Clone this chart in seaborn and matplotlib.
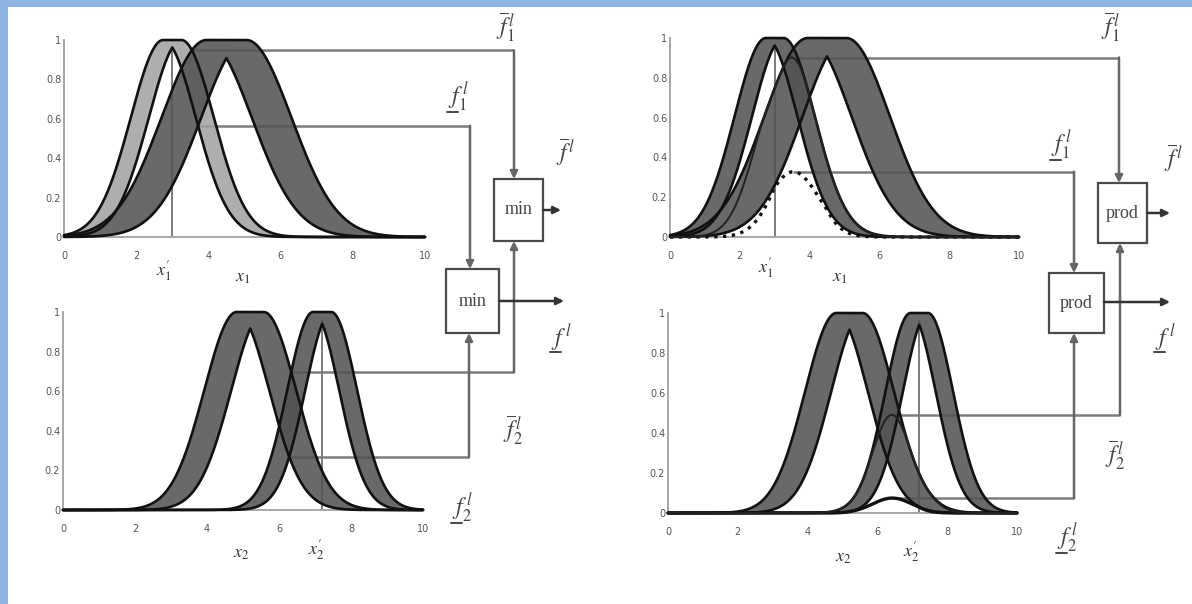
import numpy as np
import matplotlib
matplotlib.use("Agg")
import matplotlib.pyplot as plt
import seaborn as sns
from matplotlib.patches import Rectangle

sns.set_theme(style="white")
plt.rcParams["font.family"] = ["DejaVu Sans"]
plt.rcParams["mathtext.fontset"] = "stix"

W, H = 1192, 604

# interval type-2 gaussian sets with uncertain mean
x1_input_means = [2.75, 3.25]
x1_input_sigma = 0.9
x1_rule_means = [3.95, 5.05]
x1_rule_sigma = 1.25
x2_rule_means = [4.825, 5.575]
x2_rule_sigma = 0.9
x2_input_means = [6.95, 7.45]
x2_input_sigma = 0.72
x1_prime = 3.0
x2_prime = 7.2

x_ticks = [0, 2, 4, 6, 8, 10]
y_ticks = [0, 0.2, 0.4, 0.6, 0.8, 1]
y_tick_labels = ["0", "0.2", "0.4", "0.6", "0.8", "1"]

xs = np.linspace(0, 10, 801)

LINE = "#7c7c7c"
DARK = "#535353"
LIGHT = "#a2a2a2"


def gauss(x, m, s):
    return np.exp(-0.5 * ((x - m) / s) ** 2)


def upper_mf(x, means, s):
    m1, m2 = means
    return np.where(x < m1, gauss(x, m1, s), np.where(x > m2, gauss(x, m2, s), 1.0))


def lower_mf(x, means, s):
    return np.minimum(gauss(x, means[0], s), gauss(x, means[1], s))


def make_axes(fig, px_left, px_right, px_bottom, px_top):
    ax = fig.add_axes([px_left / W, 1 - px_bottom / H,
                       (px_right - px_left) / W, (px_bottom - px_top) / H])
    ax.set_xlim(0, 10)
    ax.set_ylim(0, 1)
    ax.set_xticks(x_ticks)
    ax.set_xticklabels([str(t) for t in x_ticks])
    ax.set_yticks(y_ticks)
    ax.set_yticklabels(y_tick_labels)
    for side in ["top", "right"]:
        ax.spines[side].set_visible(False)
    for side in ["left", "bottom"]:
        ax.spines[side].set_color("#a0a0a0")
        ax.spines[side].set_linewidth(1.3)
    ax.tick_params(direction="in", length=3, width=1, colors="#8a8a8a",
                   labelsize=7, labelcolor="#555555")
    ax.tick_params(axis="x", pad=10)
    ax.tick_params(axis="y", pad=2)
    ax.patch.set_alpha(0)
    return ax


def draw_fou(ax, means, s, fill):
    up = upper_mf(xs, means, s)
    lo = lower_mf(xs, means, s)
    ax.fill_between(xs, lo, up, color=fill, alpha=0.87, lw=0, zorder=2)
    for y in (up, lo):
        sns.lineplot(x=xs, y=y, ax=ax, color="#111111", lw=1.9, zorder=3,
                     clip_on=False, legend=False)
    ax.set_xlabel("")
    ax.set_ylabel("")


def firing(inp, rule, tnorm):
    op = np.minimum if tnorm == "min" else np.multiply
    up = op(upper_mf(xs, *inp), upper_mf(xs, *rule))
    lo = op(lower_mf(xs, *inp), lower_mf(xs, *rule))
    return (xs[up.argmax()], up.max(), up), (xs[lo.argmax()], lo.max(), lo)


fig = plt.figure(figsize=(W / 100, H / 100), dpi=100)
fig.patch.set_facecolor("white")

ov = fig.add_axes([0, 0, 1, 1])
ov.set_xlim(0, W)
ov.set_ylim(H, 0)
ov.axis("off")
ov.patch.set_alpha(0)
ov.set_zorder(5)

ov.add_patch(Rectangle((0, 0), W, 6.5, color="#8db4e2", lw=0))
ov.add_patch(Rectangle((0, 0), 7.5, H, color="#8db4e2", lw=0))

panels = [
    dict(frame=(64, 425, 237, 40), inp=(x1_input_means, x1_input_sigma),
         rule=(x1_rule_means, x1_rule_sigma), inp_fill=LIGHT, prime=x1_prime,
         tnorm="min", labels=[(r"$x_1'$", 164, 271), (r"$x_1$", 243, 277)]),
    dict(frame=(63, 423, 510, 312), inp=(x2_input_means, x2_input_sigma),
         rule=(x2_rule_means, x2_rule_sigma), inp_fill=DARK, prime=x2_prime,
         tnorm="min", labels=[(r"$x_2$", 241, 553), (r"$x_2'$", 316, 550)]),
    dict(frame=(670, 1019, 237, 38), inp=(x1_input_means, x1_input_sigma),
         rule=(x1_rule_means, x1_rule_sigma), inp_fill=DARK, prime=x1_prime,
         tnorm="prod", labels=[(r"$x_1'$", 766, 268), (r"$x_1$", 840, 277)]),
    dict(frame=(668, 1017, 513, 313), inp=(x2_input_means, x2_input_sigma),
         rule=(x2_rule_means, x2_rule_sigma), inp_fill=DARK, prime=x2_prime,
         tnorm="prod", labels=[(r"$x_2$", 843, 557), (r"$x_2'$", 911, 552)]),
]

axes = []
for p in panels:
    ax = make_axes(fig, *p["frame"])
    draw_fou(ax, *p["inp"], p["inp_fill"])
    draw_fou(ax, *p["rule"], DARK)
    ax.plot([p["prime"], p["prime"]], [0, 0.96], color=LINE, lw=1.4, zorder=1)
    hi, lo = firing(p["inp"], p["rule"], p["tnorm"])
    p["hi"], p["lo"] = hi, lo
    if p["tnorm"] == "prod":
        style = ":" if p is panels[2] else "-"
        ax.plot(xs, lo[2], color="#111111", lw=2.4, ls=style, zorder=4, clip_on=False)
        ax.plot(xs, hi[2], color="#222222", lw=1.4, zorder=4, clip_on=False)
    for text, lx, ly in p["labels"]:
        ov.text(lx, ly, text, fontsize=13, ha="center", va="center", color="#333333")
    axes.append(ax)


def connect(ax, x_start, level, x_turn, y_end):
    xt = ax.transData.inverted().transform((x_turn, 0))[0]
    ax.plot([x_start, xt], [level, level], color=LINE, lw=1.8, zorder=1,
            clip_on=False, solid_capstyle="butt")
    ypx = H - ax.transData.transform((0, level))[1]
    ov.annotate("", xy=(x_turn, y_end), xytext=(x_turn, ypx),
                arrowprops=dict(arrowstyle="-|>", color="#666666", lw=1.8,
                                shrinkA=0, shrinkB=0, mutation_scale=11))


def arrow_out(x0, x1, y):
    ov.annotate("", xy=(x1, y), xytext=(x0, y),
                arrowprops=dict(arrowstyle="-|>", color="#333333", lw=1.8,
                                shrinkA=0, shrinkB=0, mutation_scale=11))


def box(x0, y0, x1, y1, text):
    ov.add_patch(Rectangle((x0, y0), x1 - x0, y1 - y0, fill=False,
                           ec="#4a4a4a", lw=1.6))
    ov.text((x0 + x1) / 2, (y0 + y1) / 2, text, family="Liberation Serif",
            fontsize=13, ha="center", va="center", color="#444444")


# left half: min t-norm
box(494, 179, 543, 241, "min")
box(446, 269, 499, 333, "min")
tl, bl, tr, br = panels
connect(axes[0], tl["hi"][0], tl["hi"][1], 514, 179)
connect(axes[0], tl["lo"][0], tl["lo"][1], 470, 269)
connect(axes[1], bl["hi"][0], bl["hi"][1], 514, 241)
connect(axes[1], bl["lo"][0], bl["lo"][1], 469, 333)
arrow_out(543, 561, 210)
arrow_out(499, 564, 301)

# right half: product t-norm
box(1098, 183, 1147, 243, "prod")
box(1049, 273, 1104, 333, "prod")
connect(axes[2], tr["hi"][0], tr["hi"][1], 1119, 183)
connect(axes[2], tr["lo"][0], tr["lo"][1], 1074, 273)
connect(axes[3], br["hi"][0], br["hi"][1], 1120, 243)
connect(axes[3], br["lo"][0], br["lo"][1], 1074, 333)
arrow_out(1147, 1170, 213)
arrow_out(1104, 1170, 302)

f_labels = [
    (r"$\overline{f}_1^{\,l}$", 506, 27, False),
    (r"$f_1^{\,l}$", 459, 97, True),
    (r"$\overline{f}^{\,l}$", 566, 152, False),
    (r"$f^{\,l}$", 562, 338, True),
    (r"$\overline{f}_2^{\,l}$", 513, 430, False),
    (r"$f_2^{\,l}$", 463, 508, True),
    (r"$\overline{f}_1^{\,l}$", 1111, 27, False),
    (r"$f_1^{\,l}$", 1062, 145, True),
    (r"$\overline{f}^{\,l}$", 1174, 158, False),
    (r"$f^{\,l}$", 1166, 338, True),
    (r"$\overline{f}_2^{\,l}$", 1115, 455, False),
    (r"$f_2^{\,l}$", 1068, 538, True),
]
under = []
for text, lx, ly, is_lower in f_labels:
    t = ov.text(lx, ly, text, fontsize=17, ha="center", va="center", color="#444444")
    if is_lower:
        under.append(t)

fig.canvas.draw()
renderer = fig.canvas.get_renderer()
for t in under:
    bb = t.get_window_extent(renderer)
    x0 = bb.x0
    yb = H - bb.y0
    ov.plot([x0 - 1, x0 + 0.45 * bb.width], [yb - 1, yb - 1], color="#444444", lw=1.4)

fig.savefig("out.png", dpi=100, facecolor="white")
